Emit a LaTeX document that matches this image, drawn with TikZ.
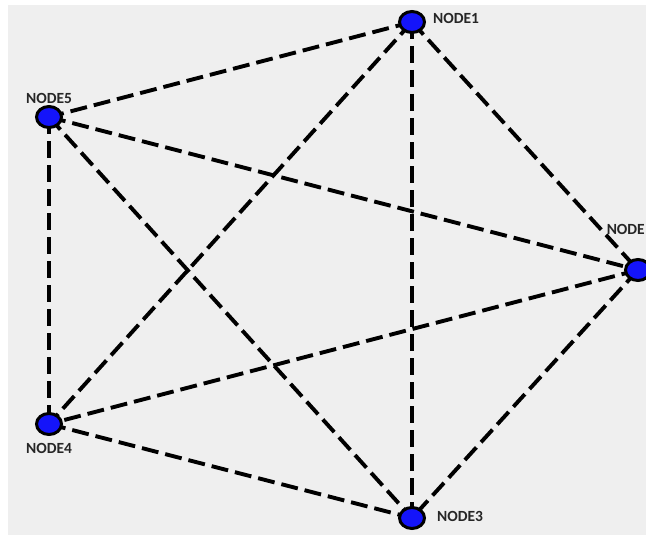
\documentclass[tikz,border=0pt]{standalone}
\usepackage{fontspec}
\usetikzlibrary{shapes.geometric}
\setmainfont{Carlito}
\definecolor{bggrey}{RGB}{239,239,239}
\definecolor{nodeblue}{RGB}{20,20,250}
\begin{document}
\begin{tikzpicture}[x=1pt,y=-1pt,
  vert/.style={draw=black,line width=3pt,fill=nodeblue,ellipse,minimum width=25pt,minimum height=21pt,inner sep=0pt},
  lbl/.style={font=\fontsize{15.5}{15.5}\selectfont\bfseries,text=black!85,inner sep=0pt},
  link/.style={line width=3.9pt,dash pattern=on 17pt off 7pt}]
\useasboundingbox (0,0) rectangle (646,535);
\clip (0,0) rectangle (646,535);
\fill[white] (0,0) rectangle (646,535);
\fill[bggrey] (8,5) rectangle (646,535);
\coordinate (c1) at (412,22);
\coordinate (c2) at (638,270);
\coordinate (c3) at (412,518);
\coordinate (c4) at (49,424);
\coordinate (c5) at (49,117);
\draw[link] (c1) -- (c5);
\draw[link] (c1) -- (c2);
\draw[link] (c1) -- (c3);
\draw[link] (c1) -- (c4);
\draw[link] (c5) -- (c2);
\draw[link] (c5) -- (c4);
\draw[link] (c5) -- (c3);
\draw[link] (c2) -- (c4);
\draw[link] (c2) -- (c3);
\draw[link] (c4) -- (c3);
\node[vert] (n1) at (c1) {};
\node[vert] (n2) at (c2) {};
\node[vert] (n3) at (c3) {};
\node[vert] (n4) at (c4) {};
\node[vert] (n5) at (c5) {};
\node[lbl,anchor=west] (l1) at (433,18) {NODE1};
\node[lbl,anchor=east] (l2) at (645,229) {NODE};
\node[lbl,anchor=west] (l3) at (437,516) {NODE3};
\node[lbl] (l4) at (49,448) {NODE4};
\node[lbl] (l5) at (49,98) {NODE5};
\end{tikzpicture}
\end{document}
